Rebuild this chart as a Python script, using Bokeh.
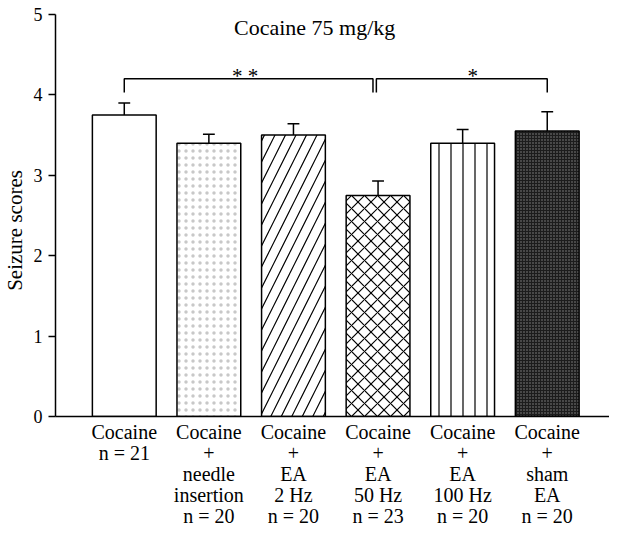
from bokeh.plotting import figure
from bokeh.models import Range1d, FixedTicker, Label, LinearAxis
from bokeh.embed import file_html
from bokeh.resources import INLINE

# ---- data ----
group_lines = [["Cocaine", "n = 21"],
               ["Cocaine", "+", "needle", "insertion", "n = 20"],
               ["Cocaine", "+", "EA", "2 Hz", "n = 20"],
               ["Cocaine", "+", "EA", "50 Hz", "n = 23"],
               ["Cocaine", "+", "EA", "100 Hz", "n = 20"],
               ["Cocaine", "+", "sham", "EA", "n = 20"]]
means = [3.75, 3.40, 3.50, 2.75, 3.40, 3.55]
sems = [0.15, 0.11, 0.14, 0.18, 0.17, 0.24]
y_ticks = [0, 1, 2, 3, 4, 5]
title_text = "Cocaine 75 mg/kg"
y_title = "Seizure scores"
sig_labels = ["* *", "*"]

FONT = "Liberation Serif"
xs = list(range(len(group_lines)))

p = figure(width=609, height=530, output_backend="svg", toolbar_location=None,
           x_range=Range1d(-0.813, 5.736), y_range=Range1d(0, 5))
p.min_border_left = 53
p.min_border_right = 0
p.min_border_top = 14
p.min_border_bottom = 114
p.outline_line_color = None
p.grid.visible = False
p.background_fill_color = "white"

# styles per bar
fills = ["white", "white", "white", "white", "white", "#1c1c1c"]
hatches = [" ", "dot", "right_diagonal_line", "diagonal_cross", "vertical_line", "dot"]
hcolors = ["black", "#c8c8c8", "black", "black", "black", "#8a8a8a"]
hscales = [12, 7, 21, 13, 12, 3]
hweights = [1, 0.7, 1.2, 1.2, 1.2, 1]

w = 0.754
for i in xs:
    p.vbar(x=[xs[i]], top=[means[i]], bottom=0, width=w,
           fill_color=fills[i], line_color="black", line_width=1.5,
           hatch_pattern=hatches[i], hatch_color=hcolors[i],
           hatch_scale=hscales[i], hatch_weight=hweights[i])

# error bars (upper only)
tops = [m + s for m, s in zip(means, sems)]
p.segment(x0=xs, y0=means, x1=xs, y1=tops, line_color="black", line_width=1.5)
cap = 0.07
p.segment(x0=[x - cap for x in xs], y0=tops, x1=[x + cap for x in xs], y1=tops,
          line_color="black", line_width=1.5)

# significance brackets
by, bl = 4.20, 4.03
brackets = [(0, 2.94), (2.98, 5)]
star_x = [1.43, 4.12]
for (a, b), lab, sx in zip(brackets, sig_labels, star_x):
    p.line(x=[a, a, b, b], y=[bl, by, by, bl], line_color="black", line_width=1.5)
    p.add_layout(Label(x=sx, y=4.24, text=lab, text_align="center",
                       text_baseline="alphabetic", text_font=FONT, text_font_size="21px",
                       text_color="black"))

p.add_layout(Label(x=2.25, y=4.84, text=title_text, text_align="center",
                   text_baseline="middle", text_font=FONT, text_font_size="22px",
                   text_color="black"))

# y axis
p.yaxis.ticker = FixedTicker(ticks=y_ticks)
p.yaxis.minor_tick_line_color = None
p.yaxis.major_tick_out = 7
p.yaxis.major_tick_in = 0
p.yaxis.major_label_text_font = FONT
p.yaxis.major_label_text_font_size = "18px"
p.yaxis.major_label_text_color = "black"
p.yaxis.major_label_standoff = 6
p.yaxis.axis_line_width = 1.5
p.yaxis.major_tick_line_width = 1.5

# y title: an extra left axis whose single tick carries the title
p.extra_y_ranges = {"ytitle": Range1d(0, 2.161)}
yt = LinearAxis(y_range_name="ytitle", ticker=FixedTicker(ticks=[1]),
                major_label_overrides={1: y_title},
                major_label_orientation="vertical",
                axis_line_color=None, major_tick_line_color=None,
                minor_tick_line_color=None, major_tick_out=0, major_tick_in=0,
                major_label_standoff=3, major_label_text_font=FONT,
                major_label_text_font_size="21px", major_label_text_color="black")
p.add_layout(yt, "left")

# x axis: first label line on the main axis, further lines on stacked axes
def style_x(ax, lines_k, standoff):
    ax.ticker = FixedTicker(ticks=xs)
    ax.major_label_overrides = {i: t for i, t in zip(xs, lines_k)}
    ax.major_tick_line_color = None
    ax.minor_tick_line_color = None
    ax.major_tick_out = 0
    ax.major_tick_in = 0
    ax.major_label_standoff = standoff
    ax.major_label_text_font = FONT
    ax.major_label_text_font_size = "20px"
    ax.major_label_text_line_height = 1.0
    ax.major_label_text_color = "black"

n_lines = max(len(g) for g in group_lines)
rows = [[g[k] if k < len(g) else "" for g in group_lines] for k in range(n_lines)]

style_x(p.xaxis[0], rows[0], 4)
p.xaxis[0].axis_line_width = 1.5
for k in range(1, n_lines):
    ax = LinearAxis(axis_line_color=None)
    style_x(ax, rows[k], -4)
    p.add_layout(ax, "below")

open("out.html", "w").write(file_html(p, INLINE))
